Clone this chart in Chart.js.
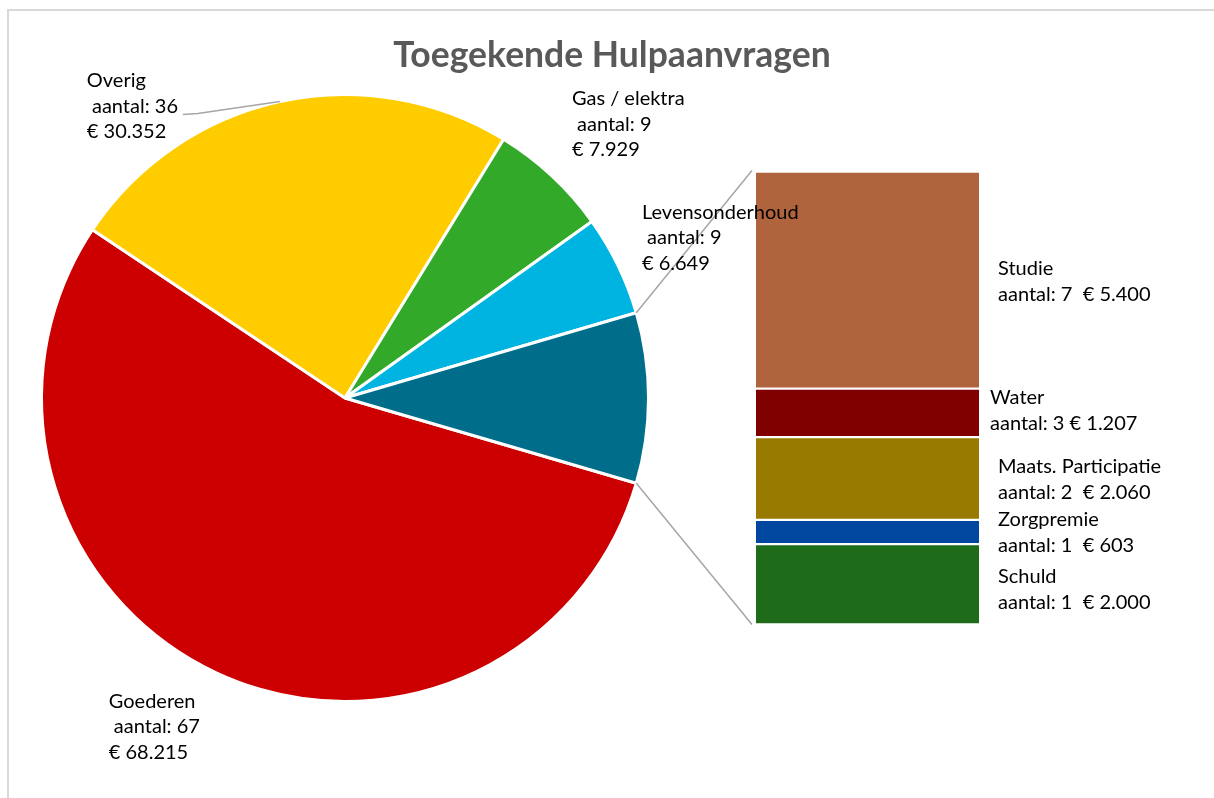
<!doctype html>
<html lang="nl">
<head>
  <meta charset="utf-8">
  <title>Toegekende Hulpaanvragen</title>
  <script src="https://cdn.jsdelivr.net/npm/chart.js"></script>
  <style>
    body { margin: 0; background: #fff; }
    #wrap { position: relative; width: 1214px; height: 798px; }
    #wrap canvas { position: absolute; left: 0; top: 0; }
    #kader {
      position: absolute; left: 7px; top: 9px; right: 0; bottom: 0;
      border-left: 2px solid #d9d9d9; border-top: 2px solid #d9d9d9;
    }
  </style>
</head>
<body>
  <div id="wrap">
    <div id="kader"></div>
    <canvas id="taart" width="1214" height="798"></canvas>
    <canvas id="staaf" width="1214" height="798"></canvas>
  </div>

  <script>
    // gegevens
    var titel = 'Toegekende Hulpaanvragen';
    var taartLabels = ['Goederen', 'Overig', 'Gas / elektra', 'Levensonderhoud'];
    var taartAantal = [67, 36, 9, 9];
    var taartBedrag = [68215, 30352, 7929, 6649];
    var staafLabels = ['Studie', 'Water', 'Maats. Participatie', 'Zorgpremie', 'Schuld'];
    var staafAantal = [7, 3, 2, 1, 1];
    var staafBedrag = [5400, 1207, 2060, 603, 2000];

    var taartKleuren = ['#cc0000', '#ffcc00', '#33a92a', '#00b4e2', '#006d8b'];
    var staafKleuren = ['#af643d', '#800000', '#997a00', '#0047a0', '#1e6b19'];

    var lettertype = 'Lato, "Open Sans", sans-serif';

    function euro(n) {
      return String(n).replace(/\B(?=(\d{3})+(?!\d))/g, '.');
    }
    function som(a) {
      return a.reduce(function (s, v) { return s + v; }, 0);
    }

    var restBedrag = som(staafBedrag);
    var restGraden = restBedrag / (som(taartBedrag) + restBedrag) * 360;

    // label plaatsing t.o.v. rand van de taartpunt / rechterkant van de staaf
    var taartLabelPos = [
      { dx: -108, dy: 28 },
      { dx: -193, dy: -21, lijn: [[-82, 12], [-97, 13]] },
      { dx: 20, dy: -77 },
      { dx: 24, dy: -53 }
    ];
    var staafLabelPos = [
      { dx: 19, dy: 1, sep: '  ' },
      { dx: 11, dy: -2, sep: ' ' },
      { dx: 19, dy: 1.5, sep: '  ' },
      { dx: 19, dy: 1, sep: '  ' },
      { dx: 19, dy: 5.5, sep: '  ' }
    ];

    var taart = new Chart(document.getElementById('taart'), {
      type: 'pie',
      data: {
        labels: taartLabels.concat(['Overige']),
        datasets: [{
          data: taartBedrag.concat([restBedrag]),
          backgroundColor: taartKleuren,
          borderColor: '#ffffff',
          borderWidth: 3,
          hoverOffset: 0
        }]
      },
      options: {
        responsive: false,
        animation: false,
        events: [],
        rotation: 90 + restGraden / 2,
        layout: { padding: { left: 40, top: 93, right: 564, bottom: 95 } },
        plugins: {
          legend: { display: false },
          tooltip: { enabled: false }
        }
      }
    });

    function tekstBlok(ctx, regels, x, y, lh) {
      regels.forEach(function (r, i) {
        ctx.fillText(r, x, y + i * lh + 6.5);
      });
    }

    var annotaties = {
      id: 'annotaties',
      afterDatasetsDraw: function (chart) {
        var ctx = chart.ctx;
        var punten = taart.getDatasetMeta(0).data;
        var staven = chart.data.datasets.map(function (d, i) {
          return chart.getDatasetMeta(i).data[0];
        });
        ctx.save();

        // titel
        ctx.fillStyle = '#595959';
        ctx.font = 'bold 35.5px ' + lettertype;
        ctx.textAlign = 'center';
        ctx.textBaseline = 'alphabetic';
        ctx.fillText(titel, chart.width / 2 + 5, 67);

        // verbindingslijnen tussen taart en staaf
        var rest = punten[punten.length - 1];
        var eerste = staven[0], laatste = staven[staven.length - 1];
        var links = eerste.x - eerste.width / 2 - 4;
        var boven = Math.min(eerste.y, eerste.base);
        var onder = Math.max(laatste.y, laatste.base);
        ctx.strokeStyle = '#a6a6a6';
        ctx.lineWidth = 1.5;
        ctx.beginPath();
        ctx.moveTo(rest.x + Math.cos(rest.startAngle) * rest.outerRadius, rest.y + Math.sin(rest.startAngle) * rest.outerRadius);
        ctx.lineTo(links, boven - 1);
        ctx.moveTo(rest.x + Math.cos(rest.endAngle) * rest.outerRadius, rest.y + Math.sin(rest.endAngle) * rest.outerRadius);
        ctx.lineTo(links, onder);
        ctx.stroke();

        // taartlabels
        ctx.font = '20px ' + lettertype;
        ctx.textAlign = 'left';
        ctx.fillStyle = '#000000';
        taartLabels.forEach(function (l, i) {
          var a = punten[i];
          var hoek = (a.startAngle + a.endAngle) / 2;
          var ex = a.x + Math.cos(hoek) * a.outerRadius;
          var ey = a.y + Math.sin(hoek) * a.outerRadius;
          var p = taartLabelPos[i];
          if (p.lijn) {
            ctx.beginPath();
            ctx.moveTo(ex, ey);
            p.lijn.forEach(function (q) { ctx.lineTo(ex + q[0], ey + q[1]); });
            ctx.stroke();
          }
          tekstBlok(ctx, [l, ' aantal: ' + taartAantal[i], '\u20ac ' + euro(taartBedrag[i])], ex + p.dx, ey + p.dy, 25.5);
        });

        // staaflabels
        staafLabels.forEach(function (l, i) {
          var s = staven[i];
          var midden = (s.y + s.base) / 2;
          var p = staafLabelPos[i];
          var rechts = s.x + s.width / 2;
          tekstBlok(ctx, [l, 'aantal: ' + staafAantal[i] + p.sep + '\u20ac ' + euro(staafBedrag[i])], rechts + p.dx, midden + p.dy - 13, 26);
        });
        ctx.restore();
      }
    };

    var staaf = new Chart(document.getElementById('staaf'), {
      type: 'bar',
      data: {
        labels: [''],
        datasets: staafLabels.map(function (l, i) {
          return {
            label: l,
            data: [staafBedrag[i]],
            backgroundColor: staafKleuren[i],
            borderColor: '#ffffff',
            borderWidth: { top: 1.5, bottom: 1.5, left: 0, right: 0 },
            borderSkipped: false,
            barPercentage: 1,
            categoryPercentage: 1
          };
        })
      },
      options: {
        responsive: false,
        animation: false,
        events: [],
        layout: { padding: { left: 756, right: 235, top: 171.5, bottom: 173.5 } },
        scales: {
          x: { display: false, stacked: true },
          y: { display: false, stacked: true, reverse: true, min: 0, max: restBedrag }
        },
        plugins: {
          legend: { display: false },
          tooltip: { enabled: false }
        }
      },
      plugins: [annotaties]
    });
  </script>
</body>
</html>
